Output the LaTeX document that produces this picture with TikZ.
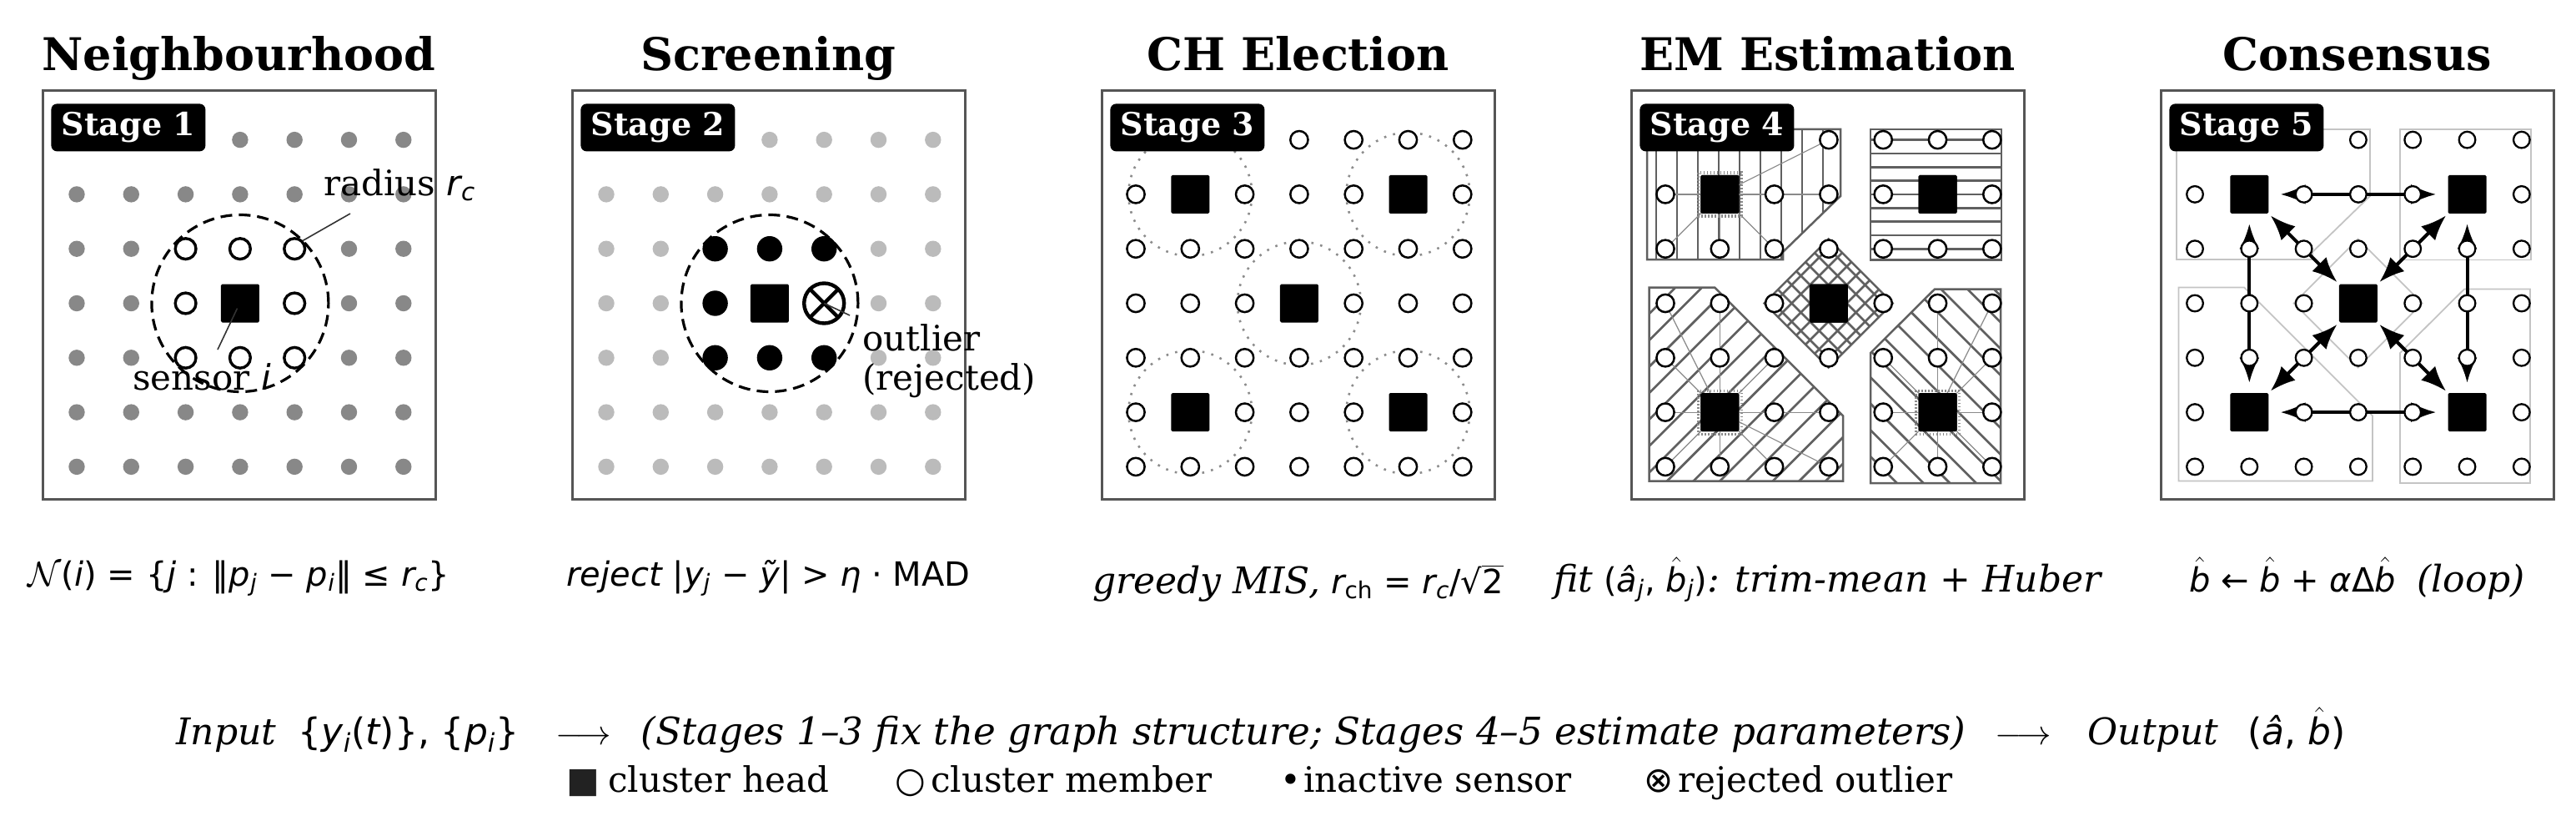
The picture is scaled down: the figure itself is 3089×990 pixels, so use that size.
\documentclass[tikz,border=0pt]{standalone}
\usepackage{fontspec}
\setmainfont{DejaVu Serif}
\newfontfamily\dvs{DejaVu Sans}
\usetikzlibrary{arrows.meta,calc}

\definecolor{framegray}{HTML}{555555}
\definecolor{dotdark}{HTML}{888888}
\definecolor{dotlight}{HTML}{BBBBBB}
\definecolor{hatchgray}{HTML}{606060}
\definecolor{spokegray}{HTML}{8A8A8A}
\definecolor{ringgray}{HTML}{8C8C8C}
\definecolor{regiongray}{HTML}{C4C4C4}
\definecolor{legendsq}{HTML}{222222}

\newcommand\mi[1]{{\dvs\itshape #1}}
\newcommand\mr[1]{{\dvs #1}}
\newcommand\sbi[1]{\textsubscript{\dvs\itshape #1}}
\newcommand\sbr[1]{\textsubscript{\dvs #1}}
\newcommand\bhat{\ensuremath{\hat{\hbox{\dvs\itshape b}}}}
\newcommand\serit[1]{{\fontsize{22}{24}\selectfont\itshape #1}}

% cluster polygons of stage 4 (full-image pixel coordinates)
\newcommand\polyTL{(1975,155) -- (2207,155) -- (2207,235) -- (2138,302) -- (2138,311) -- (1975,311) -- cycle}
\newcommand\polyTR{(2243,155) -- (2400,155) -- (2400,311.5) -- (2243,311.5) -- cycle}
\newcommand\polyC{(2192.5,286.5) -- (2269.5,363.5) -- (2192.5,440.5) -- (2115.5,363.5) -- cycle}
\newcommand\polyBL{(1977.5,344.5) -- (2056,344.5) -- (2210,498.5) -- (2210,576.5) -- (1977.5,576.5) -- cycle}
\newcommand\polyBR{(2243,423) -- (2320,346.5) -- (2399,346.5) -- (2399,579) -- (2243,579) -- cycle}

\tikzset{
  panelframe/.style={draw=framegray, line width=1.5pt},
  stagebox/.style={fill=black, text=white, rounded corners=3.5pt, minimum width=92.5pt,
    minimum height=28.5pt, inner sep=0pt, anchor=north west, font=\fontsize{19}{19}\selectfont\bfseries},
  titlet/.style={anchor=base, inner sep=0pt, font=\fontsize{27}{30}\selectfont\bfseries},
  chead/.style={fill=black, minimum size=23pt, inner sep=0pt, rounded corners=0.8pt},
  annot/.style={inner sep=0pt, anchor=base west, font=\fontsize{21}{24}\selectfont},
  formula/.style={anchor=base, inner sep=0pt, font=\fontsize{20}{22}\selectfont},
  leader/.style={draw=black!80, line width=0.8pt},
  nbring/.style={draw=black, line width=1.6pt, dash pattern=on 7pt off 4pt},
  chring/.style={draw=ringgray, line width=1.3pt, dash pattern=on 1.3pt off 4.2pt},
  memberA/.style={draw=black, line width=1.7pt},
  memberB/.style={draw=black, fill=white, line width=1.25pt},
  memberC/.style={draw=black, fill=white, line width=1.15pt},
  hatchline/.style={draw=hatchgray, line width=1.35pt},
  regionline/.style={draw=hatchgray, line width=1.25pt},
  spoke/.style={draw=spokegray, line width=0.6pt},
  faint/.style={draw=regiongray, line width=0.9pt},
  biarrow/.style={draw=black, line width=2pt,
    {Latex[length=15pt,width=12pt]}-{Latex[length=15pt,width=12pt]}},
  outl/.style={draw=black, line width=2.2pt},
  flowtext/.style={anchor=base, inner sep=0pt, font=\fontsize{22}{24}\selectfont},
  legtext/.style={anchor=base west, inner sep=0pt, font=\fontsize{21}{24}\selectfont},
}

\begin{document}
\begin{tikzpicture}[x=0.5pt,y=-0.5pt]
\useasboundingbox (0,0) rectangle (3089,990);
\fill[white] (0,0) rectangle (3089,990);

% grid coordinates: panel k (1..5), row i, column j
\foreach \k in {1,...,5}{
  \foreach \i in {0,...,6}{
    \foreach \j in {0,...,6}{
      \coordinate (p\k-\i-\j) at ({92+635*(\k-1)+65.3*\j},{167.6+65.3*\i});
    }}}

% titles
\node[titlet] (t1) at (286.5,85) {Neighbourhood};
\node[titlet] (t2) at (921.5,85) {Screening};
\node[titlet] (t3) at (1556.5,85) {CH Election};
\node[titlet] (t4) at (2191.5,85) {EM Estimation};
\node[titlet] (t5) at (2826.5,85) {Consensus};

% frames
\foreach \k in {1,...,5}{
  \draw[panelframe] ({51+635*(\k-1)},109) rectangle ({522+635*(\k-1)},598);
}

% ---------------- Panel 1 ----------------
\foreach \i in {0,...,6}{
  \foreach \j in {0,...,6}{
    \pgfmathtruncatemacro\inner{(\i>1)&&(\i<5)&&(\j>1)&&(\j<5)}
    \ifnum\inner=0 \fill[dotdark] (p1-\i-\j) circle[radius=4.85pt];\fi
  }}
\foreach \i/\j in {2/2,2/3,2/4,3/2,3/4,4/2,4/3,4/4}
  \draw[memberA] (p1-\i-\j) circle[radius=6.2pt];
\node[chead] (s1) at (p1-3-3) {};
\draw[nbring] (p1-3-3) circle[radius=53pt];
\node[annot] (radlab) at (388,234) {radius \mi{r}\sbi{c}};
\coordinate (radfoot) at (420,256);
\coordinate (ringNE) at (363,288.5);
\draw[leader] (radfoot) -- (ringNE);
\node[annot] (senlab) at (159,467) {sensor \mi{i}};
\coordinate (senfoot) at (261,419);
\coordinate (sencore) at (284.5,369.6);
\draw[leader] (senfoot) -- (sencore);

% ---------------- Panel 2 ----------------
\foreach \i in {0,...,6}{
  \foreach \j in {0,...,6}{
    \pgfmathtruncatemacro\inner{(\i>1)&&(\i<5)&&(\j>1)&&(\j<5)}
    \ifnum\inner=0 \fill[dotlight] (p2-\i-\j) circle[radius=4.85pt];\fi
  }}
\foreach \i/\j in {2/2,2/3,2/4,3/2,4/2,4/3,4/4}
  \fill[black] (p2-\i-\j) circle[radius=7.6pt];
\node[chead] (s2) at (p2-3-3) {};
\draw[outl] (p2-3-4) circle[radius=12pt];
\draw[outl] ($(p2-3-4)+(-16,-16)$) -- ($(p2-3-4)+(16,16)$);
\draw[outl] ($(p2-3-4)+(-16,16)$) -- ($(p2-3-4)+(16,-16)$);
\coordinate (outfoot) at (1019,378);
\draw[leader] (p2-3-4) -- (outfoot);
\draw[nbring] (p2-3-3) circle[radius=53pt];
\node[annot] (outlab1) at (1034,420) {outlier};
\node[annot] (outlab2) at (1034,467) {(rejected)};

% ---------------- Panel 3 ----------------
\foreach \i/\j in {1/1,1/5,3/3,5/1,5/5}
  \draw[chring] (p3-\i-\j) circle[radius=37pt];
\foreach \i in {0,...,6}{
  \foreach \j in {0,...,6}{
    \pgfmathtruncatemacro\ishead{((\i==1||\i==5)&&(\j==1||\j==5))||(\i==3&&\j==3)}
    \ifnum\ishead=0 \draw[memberB] (p3-\i-\j) circle[radius=5.3pt];\fi
  }}
\foreach \i/\j in {1/1,1/5,3/3,5/1,5/5}
  \node[chead] (s3-\i-\j) at (p3-\i-\j) {};

% ---------------- Panel 4 ----------------
\begin{scope}
  \clip \polyTL;
  \foreach \t in {-4,...,6} \draw[hatchline] ({2061+25*\t},140) -- ({2061+25*\t},330);
\end{scope}
\begin{scope}
  \clip \polyTR;
  \foreach \t in {-1,...,9} \draw[hatchline] (2235,{167.6+16.33*\t}) -- (2410,{167.6+16.33*\t});
\end{scope}
\begin{scope}
  \clip \polyC;
  \foreach \t in {-3,...,3}{
    \draw[hatchline] ({2556+22*\t-270},270) -- ({2556+22*\t-460},460);
    \draw[hatchline] ({1829+22*\t+270},270) -- ({1829+22*\t+460},460);
  }
\end{scope}
\begin{scope}
  \clip \polyBL;
  \foreach \t in {0,...,15} \draw[hatchline] ({2322+31.7*\t-330},330) -- ({2322+31.7*\t-590},590);
\end{scope}
\begin{scope}
  \clip \polyBR;
  \foreach \t in {0,...,13} \draw[hatchline] ({1664+31.7*\t+330},330) -- ({1664+31.7*\t+590},590);
\end{scope}
\draw[regionline] \polyTL;
\draw[regionline] \polyTR;
\draw[regionline] \polyC;
\draw[regionline] \polyBL;
\draw[regionline] \polyBR;
\foreach \i/\j in {1/1,1/5,3/3,5/1,5/5}
  \node[chead] (s4-\i-\j) at (p4-\i-\j) {};
\foreach \i/\j in {0/3,1/0,1/2,1/3,2/0,2/1,2/2}
  \draw[spoke] (s4-1-1.center) -- (p4-\i-\j);
\foreach \i/\j in {3/0,3/1,4/0,4/1,4/2,5/0,5/2,5/3,6/0,6/1,6/2,6/3}
  \draw[spoke] (s4-5-1.center) -- (p4-\i-\j);
\foreach \i/\j in {3/5,3/6,4/4,4/5,4/6,5/4,5/6,6/4,6/5,6/6}
  \draw[spoke] (s4-5-5.center) -- (p4-\i-\j);
\foreach \i in {0,...,6}{
  \foreach \j in {0,...,6}{
    \pgfmathtruncatemacro\ishead{((\i==1||\i==5)&&(\j==1||\j==5))||(\i==3&&\j==3)}
    \ifnum\ishead=0 \draw[memberB] (p4-\i-\j) circle[radius=5.3pt];\fi
  }}
\foreach \i/\j in {1/1,5/1,5/5}
  \draw[spokegray, line width=1.6pt, dash pattern=on 0.8pt off 1.2pt] ($(p4-\i-\j)+(-26,-26)$) rectangle ($(p4-\i-\j)+(26,26)$);
\foreach \i/\j in {1/1,1/5,3/3,5/1,5/5}
  \node[chead] at (p4-\i-\j) {};

% ---------------- Panel 5 ----------------
\begin{scope}[xshift=317.5pt]
  \draw[faint] \polyTL;
  \draw[faint] \polyTR;
  \draw[faint] \polyC;
  \draw[faint] \polyBL;
  \draw[faint] \polyBR;
\end{scope}
\foreach \i/\j in {1/1,1/5,3/3,5/1,5/5}
  \node[chead] (s5-\i-\j) at (p5-\i-\j) {};
\draw[biarrow, shorten <=7pt, shorten >=7pt] (s5-1-1) -- (s5-1-5);
\draw[biarrow, shorten <=7pt, shorten >=7pt] (s5-5-1) -- (s5-5-5);
\draw[biarrow, shorten <=6pt, shorten >=6pt] (s5-1-1) -- (s5-5-1);
\draw[biarrow, shorten <=6pt, shorten >=6pt] (s5-1-5) -- (s5-5-5);
\draw[biarrow, shorten <=1.5pt, shorten >=1.5pt] (s5-3-3) -- (s5-1-1);
\draw[biarrow, shorten <=1.5pt, shorten >=1.5pt] (s5-3-3) -- (s5-1-5);
\draw[biarrow, shorten <=1.5pt, shorten >=1.5pt] (s5-3-3) -- (s5-5-1);
\draw[biarrow, shorten <=1.5pt, shorten >=1.5pt] (s5-3-3) -- (s5-5-5);
\foreach \i in {0,...,6}{
  \foreach \j in {0,...,6}{
    \pgfmathtruncatemacro\ishead{((\i==1||\i==5)&&(\j==1||\j==5))||(\i==3&&\j==3)}
    \ifnum\ishead=0 \draw[memberC] (p5-\i-\j) circle[radius=4.9pt];\fi
  }}

% stage labels
\foreach \k in {1,...,5}{
  \node[stagebox] (stage\k) at ({61+635*(\k-1)},124) {Stage \k};
}

% formulas
\node[formula] (f1) at (286.5,702) {$\mathcal{N}$\mr{(}\mi{i}\mr{) = \{}\mi{j}\mr{ : ‖}\mi{p}\sbi{j}\mr{ − }\mi{p}\sbi{i}\mr{‖ ≤ }\mi{r}\sbi{c}\mr{\}}};
\node[formula] (f2) at (921.5,702) {\mi{reject }\mr{|}\mi{y}\sbi{j}\mr{ − }\mi{ỹ}\mr{| > }\mi{η}\mr{ · MAD}};
\node[formula] (f3) at (1556.5,711) {\serit{greedy MIS,} \mi{r}\sbr{ch}\mr{ = }\mi{r}\sbi{c}\mr{/√}\ensuremath{\overline{\hbox{\dvs 2}}}};
\node[formula] (f4) at (2191.5,709) {\serit{fit} \mr{(}\mi{â}\sbi{j}\mr{,\ }\bhat\sbi{j}\mr{)}\serit{: trim-mean + Huber}};
\node[formula] (f5) at (2826.5,709) {\bhat\mr{ ← }\bhat\mr{ + }\mi{α}\mr{Δ}\bhat\mr{\ \ }\serit{(loop)}};

% pipeline line
\node[flowtext] (flow) at (1512,892) {{\itshape Input}\hspace{0.6em}\mr{\{}\mi{y}\sbi{i}\mr{(}\mi{t}\mr{)\}, \{}\mi{p}\sbi{i}\mr{\}}\quad$\longrightarrow$\hspace{0.8em}{\fontsize{22.6}{24}\selectfont\itshape (Stages 1–3 fix the graph structure; Stages 4–5 estimate parameters)}\hspace{0.8em}$\longrightarrow$\quad{\itshape Output}\hspace{0.8em}\mr{(}\mi{â}\mr{, }\bhat\mr{)}};

% legend
\node[legtext] (lg1s) at (679,949) {\mr{\textcolor{legendsq}{■}}};
\node[legtext] (lg1) at (729,949) {cluster head};
\node[legtext] (lg2s) at (1073,949) {\mr{○}};
\node[legtext] (lg2) at (1116,949) {cluster member};
\node[legtext] (lg3s) at (1535,949) {\mr{•}};
\node[legtext] (lg3) at (1563,949) {inactive sensor};
\node[legtext] (lg4s) at (1971,949) {\mr{⊗}};
\node[legtext] (lg4) at (2012,949) {rejected outlier};
\end{tikzpicture}
\end{document}
